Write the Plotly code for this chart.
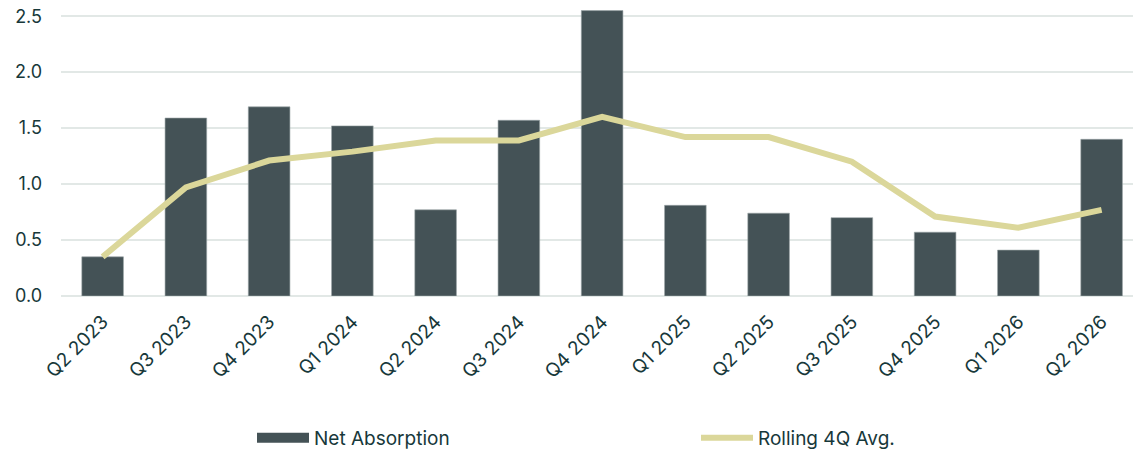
import plotly.graph_objects as go

quarters = ["Q2 2023", "Q3 2023", "Q4 2023", "Q1 2024", "Q2 2024", "Q3 2024", "Q4 2024",
            "Q1 2025", "Q2 2025", "Q3 2025", "Q4 2025", "Q1 2026", "Q2 2026"]
net_absorption = [0.35, 1.59, 1.69, 1.52, 0.77, 1.57, 2.55, 0.81, 0.74, 0.70, 0.57, 0.41, 1.40]
rolling_avg = [0.35, 0.97, 1.21, 1.29, 1.39, 1.39, 1.60, 1.42, 1.42, 1.20, 0.71, 0.61, 0.77]

TEXT = "#17383a"
BAR = "#445256"
LINE = "#dbd79a"
FONT = "Inter, Roboto, sans-serif"

fig = go.Figure()
fig.add_trace(go.Bar(
    x=quarters, y=net_absorption, name="Net Absorption",
    marker=dict(color=BAR, line=dict(color="#9aa4a6", width=0.6)),
    width=0.5, showlegend=False,
))
# wide rectangular legend key for the bars
fig.add_trace(go.Scatter(
    x=[None], y=[None], name="Net Absorption", mode="lines",
    line=dict(color=BAR, width=12), legend="legend",
))
fig.add_trace(go.Scatter(
    x=quarters, y=rolling_avg, name="Rolling 4Q Avg.", mode="lines",
    line=dict(color=LINE, width=6), legend="legend2",
))

legend_common = dict(
    xref="container", yref="container", y=0.027, yanchor="middle",
    xanchor="left", font=dict(size=19, color=TEXT, family=FONT),
    itemwidth=52, bgcolor="rgba(0,0,0,0)",
)

fig.update_layout(
    width=1133, height=450,
    margin=dict(l=61, r=0, t=5, b=154, autoexpand=False),
    plot_bgcolor="white", paper_bgcolor="white",
    font=dict(family=FONT, color=TEXT, size=18),
    showlegend=True,
    legend=dict(x=252 / 1133, **legend_common),
    legend2=dict(x=696 / 1133, **legend_common),
)
fig.update_xaxes(
    type="category", range=[-0.5, 12.377],
    tickangle=-45, tickfont=dict(size=19, color=TEXT),
    showgrid=False, showline=False, ticks="", ticklabelstandoff=10,
)
fig.update_yaxes(
    range=[0, 2.6], tickvals=[0, 0.5, 1.0, 1.5, 2.0, 2.5],
    ticktext=["0.0", "0.5", "1.0", "1.5", "2.0", "2.5"],
    tickfont=dict(size=18, color=TEXT),
    showgrid=True, gridcolor="#e2e8e6", gridwidth=1.5,
    zeroline=True, zerolinecolor="#e2e8e6", zerolinewidth=1.5,
    ticks="", ticklabelstandoff=18,
)

fig.write_html("out.html")
